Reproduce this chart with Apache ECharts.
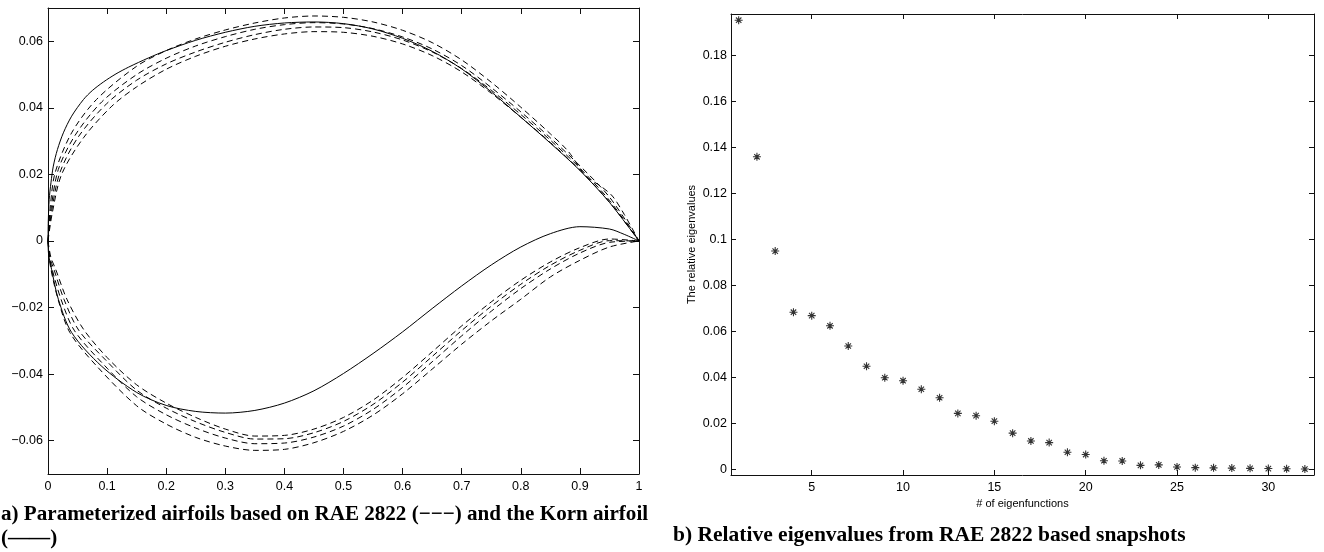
<!DOCTYPE html>
<html>
<head>
<meta charset="utf-8">
<title>Airfoils and relative eigenvalues</title>
<script src="https://cdn.jsdelivr.net/npm/echarts@6/dist/echarts.min.js"></script>
<style>
  html, body { margin: 0; padding: 0; background: #fff; }
  #chart { width: 1324px; height: 552px; }
</style>
</head>
<body>
<div id="chart"></div>
<script>
// panel a) airfoil shapes, [x/c, y/c]
const kornUpper = [[0,0],[0.0005,0.006],[0.002,0.0125],[0.005,0.0175],[0.009,0.0225],[0.016,0.0275],[0.026,0.0325],[0.04,0.0375],[0.06,0.0425],[0.075,0.0452],[0.094,0.0478],[0.115,0.0502],[0.136,0.0522],[0.17,0.055],[0.2,0.0572],[0.25,0.0603],[0.3,0.0627],[0.35,0.0645],[0.4,0.0655],[0.45,0.0658],[0.5,0.0653],[0.55,0.0637],[0.6,0.0609],[0.65,0.057],[0.7,0.0517],[0.75,0.0448],[0.8,0.0372],[0.85,0.0294],[0.9,0.0212],[0.95,0.0116],[1,0]];
const kornLower = [[0,0],[0.001,-0.004],[0.006,-0.0085],[0.0175,-0.0175],[0.04,-0.0275],[0.09,-0.0375],[0.15,-0.0455],[0.2,-0.0494],[0.25,-0.0512],[0.3,-0.0517],[0.35,-0.0509],[0.4,-0.0487],[0.45,-0.045],[0.5,-0.0398],[0.55,-0.0338],[0.6,-0.0273],[0.65,-0.0203],[0.7,-0.0135],[0.75,-0.0072],[0.8,-0.0018],[0.85,0.0022],[0.9,0.0043],[0.95,0.0036],[0.975,0.002],[1,0]];

const raeUpper1 = [[0,0],[0.004,0.0105],[0.012,0.0205],[0.04,0.0325],[0.082,0.0425],[0.15,0.0525],[0.2,0.0572],[0.25,0.0607],[0.3,0.0634],[0.35,0.0655],[0.4,0.067],[0.45,0.0676],[0.5,0.0672],[0.55,0.0658],[0.6,0.0633],[0.65,0.0596],[0.7,0.0544],[0.75,0.0477],[0.8,0.0402],[0.85,0.0322],[0.88,0.027],[0.91,0.0195],[0.935,0.0165],[0.955,0.0135],[0.975,0.008],[1,0]];
const raeUpper2 = [[0,0],[0.005,0.0095],[0.0175,0.0215],[0.046,0.0318],[0.091,0.0418],[0.15,0.05],[0.2,0.0549],[0.25,0.0586],[0.3,0.0614],[0.35,0.0636],[0.4,0.065],[0.45,0.0656],[0.5,0.0652],[0.55,0.0638],[0.6,0.0613],[0.65,0.0577],[0.7,0.0527],[0.75,0.0461],[0.8,0.0388],[0.85,0.031],[0.9,0.0226],[0.95,0.0132],[1,0]];
const raeUpper3 = [[0,0],[0.006,0.0088],[0.02,0.0205],[0.051,0.0312],[0.099,0.0412],[0.15,0.0483],[0.2,0.0532],[0.25,0.0568],[0.3,0.0597],[0.35,0.062],[0.4,0.0636],[0.45,0.0643],[0.5,0.0641],[0.55,0.0628],[0.6,0.0604],[0.65,0.0568],[0.7,0.0518],[0.75,0.0453],[0.8,0.038],[0.85,0.0303],[0.9,0.0219],[0.95,0.0122],[1,0]];
const raeUpper4 = [[0,0],[0.007,0.0082],[0.023,0.02],[0.06,0.031],[0.108,0.0405],[0.15,0.0463],[0.2,0.0516],[0.25,0.0555],[0.3,0.0585],[0.35,0.0607],[0.4,0.0622],[0.45,0.0629],[0.5,0.0627],[0.55,0.0615],[0.6,0.0592],[0.65,0.0557],[0.7,0.0508],[0.75,0.0444],[0.8,0.0372],[0.85,0.0296],[0.9,0.0213],[0.95,0.0117],[1,0]];

const raeLower1 = [[0,0],[0.005,-0.005],[0.013,-0.0085],[0.032,-0.0175],[0.06,-0.0265],[0.1,-0.035],[0.15,-0.0432],[0.2,-0.0487],[0.25,-0.053],[0.3,-0.0565],[0.35,-0.0586],[0.4,-0.0584],[0.45,-0.0565],[0.5,-0.053],[0.55,-0.0478],[0.6,-0.041],[0.65,-0.0333],[0.7,-0.0255],[0.75,-0.0183],[0.8,-0.0118],[0.85,-0.0063],[0.9,-0.002],[0.95,0.0006],[1,0]];
const raeLower2 = [[0,0],[0.004,-0.0055],[0.01,-0.0085],[0.027,-0.0175],[0.052,-0.0268],[0.1,-0.0362],[0.15,-0.0448],[0.2,-0.0502],[0.25,-0.0543],[0.3,-0.0575],[0.35,-0.0595],[0.4,-0.0594],[0.45,-0.0576],[0.5,-0.0542],[0.55,-0.0491],[0.6,-0.0424],[0.65,-0.0347],[0.7,-0.0269],[0.75,-0.0196],[0.8,-0.013],[0.85,-0.0073],[0.9,-0.0028],[0.95,0.0001],[1,0]];
const raeLower3 = [[0,0],[0.003,-0.0055],[0.007,-0.0085],[0.022,-0.0175],[0.045,-0.027],[0.1,-0.0382],[0.15,-0.0468],[0.2,-0.0522],[0.25,-0.0562],[0.3,-0.0592],[0.35,-0.0609],[0.4,-0.0607],[0.45,-0.0589],[0.5,-0.0556],[0.55,-0.0506],[0.6,-0.044],[0.65,-0.0363],[0.7,-0.0285],[0.75,-0.0211],[0.8,-0.0143],[0.85,-0.0084],[0.9,-0.0036],[0.95,-0.0004],[1,0]];
const raeLower4 = [[0,0],[0.004,-0.0075],[0.017,-0.0175],[0.037,-0.0275],[0.082,-0.0375],[0.15,-0.0495],[0.2,-0.055],[0.25,-0.059],[0.3,-0.0616],[0.35,-0.0629],[0.4,-0.0626],[0.45,-0.0606],[0.5,-0.0572],[0.55,-0.0523],[0.6,-0.0459],[0.65,-0.0385],[0.7,-0.031],[0.75,-0.024],[0.8,-0.0175],[0.85,-0.0108],[0.9,-0.0058],[0.95,-0.0018],[1,0]];

const airfoilXTicks = [0, 0.1, 0.2, 0.3, 0.4, 0.5, 0.6, 0.7, 0.8, 0.9, 1];
const airfoilYTicks = [-0.06, -0.04, -0.02, 0, 0.02, 0.04, 0.06];

// panel b) relative eigenvalues
const modeNumbers = [1,2,3,4,5,6,7,8,9,10,11,12,13,14,15,16,17,18,19,20,21,22,23,24,25,26,27,28,29,30,31,32];
const relEigen = [0.1953,0.1359,0.0949,0.0683,0.0668,0.0624,0.0536,0.0448,0.0398,0.0385,0.0348,0.0311,0.0243,0.0233,0.0209,0.0157,0.0123,0.0116,0.0074,0.0064,0.0037,0.0036,0.0017,0.0019,0.0010,0.0007,0.0006,0.0005,0.0004,0.0003,0.0002,0.0001];
const eigXTicks = [5, 10, 15, 20, 25, 30];
const eigYTicks = [0, 0.02, 0.04, 0.06, 0.08, 0.1, 0.12, 0.14, 0.16, 0.18];

const SANS = '"Liberation Sans", Arial, Helvetica, sans-serif';
const SERIF = '"Liberation Serif", "Times New Roman", serif';
const INK = '#111';

function num(v) {
  const r = Math.round(v * 10000) / 10000;
  return (r < 0 ? '\u2212' : '') + String(Math.abs(r));
}

// one side of a boxed matlab-style axis; mirror sides get ticks but no labels
function axis(kind, gridIndex, opts) {
  const base = {
    type: 'value',
    gridIndex,
    min: opts.min,
    max: opts.max,
    position: opts.position,
    splitLine: { show: false },
    axisLine: { show: true, onZero: false, lineStyle: { color: INK, width: 1 } },
    axisTick: { show: true, inside: true, length: opts.tickLen, customValues: opts.ticks, lineStyle: { color: INK } },
    axisLabel: {
      show: !opts.mirror,
      customValues: opts.ticks,
      formatter: num,
      color: '#000',
      fontFamily: SANS,
      fontSize: 12.5,
      margin: opts.margin || 5
    }
  };
  if (opts.name) {
    base.name = opts.name;
    base.nameLocation = 'middle';
    base.nameGap = opts.nameGap;
    base.nameRotate = kind === 'y' ? 90 : 0;
    base.nameTextStyle = { fontFamily: SANS, fontSize: 11, color: '#000' };
  }
  return base;
}

function airfoil(data, dashed) {
  return {
    type: 'line',
    xAxisIndex: 0,
    yAxisIndex: 0,
    data,
    smooth: 0.3,
    showSymbol: false,
    silent: true,
    lineStyle: { color: '#000', width: 1, type: dashed ? [6, 4] : 'solid' }
  };
}

const chart = echarts.init(document.getElementById('chart'), null, { renderer: 'canvas' });

chart.setOption({
  animation: false,
  backgroundColor: '#fff',
  title: [
    {
      text: 'a) Parameterized airfoils based on RAE 2822 (\u2212\u2212\u2212) and the Korn airfoil\n(\u2014\u2014)',
      left: 1, top: 503, padding: 0,
      textStyle: { fontFamily: SERIF, fontWeight: 'bold', fontSize: 21.1, lineHeight: 24, color: '#000' }
    },
    {
      text: 'b) Relative eigenvalues from RAE 2822 based snapshots',
      left: 673, top: 523, padding: 0,
      textStyle: { fontFamily: SERIF, fontWeight: 'bold', fontSize: 21.5, lineHeight: 24, color: '#000' }
    }
  ],
  grid: [
    { left: 48, top: 8, width: 591, height: 466 },
    { left: 731, top: 14, width: 583, height: 461 }
  ],
  xAxis: [
    axis('x', 0, { min: 0, max: 1, position: 'bottom', ticks: airfoilXTicks, tickLen: 6, margin: 6 }),
    axis('x', 0, { min: 0, max: 1, position: 'top', ticks: airfoilXTicks, tickLen: 6, mirror: true }),
    axis('x', 1, { min: 0.58, max: 32.5, position: 'bottom', ticks: eigXTicks, tickLen: 5, margin: 6,
      name: '# of eigenfunctions', nameGap: 13 }),
    axis('x', 1, { min: 0.58, max: 32.5, position: 'top', ticks: eigXTicks, tickLen: 5, mirror: true })
  ],
  yAxis: [
    axis('y', 0, { min: -0.07, max: 0.07, position: 'left', ticks: airfoilYTicks, tickLen: 6, margin: 5 }),
    axis('y', 0, { min: -0.07, max: 0.07, position: 'right', ticks: airfoilYTicks, tickLen: 6, mirror: true }),
    axis('y', 1, { min: -0.0025, max: 0.198, position: 'left', ticks: eigYTicks, tickLen: 5, margin: 4,
      name: 'The relative eigenvalues', nameGap: 34 }),
    axis('y', 1, { min: -0.0025, max: 0.198, position: 'right', ticks: eigYTicks, tickLen: 5, mirror: true })
  ],
  series: [
    airfoil(raeUpper1, true), airfoil(raeUpper2, true), airfoil(raeUpper3, true), airfoil(raeUpper4, true),
    airfoil(raeLower1, true), airfoil(raeLower2, true), airfoil(raeLower3, true), airfoil(raeLower4, true),
    airfoil(kornUpper, false), airfoil(kornLower, false),
    {
      type: 'scatter',
      xAxisIndex: 2,
      yAxisIndex: 2,
      data: modeNumbers.map((m, i) => [m, relEigen[i]]),
      symbol: 'path://M5,0L5,10M0,5L10,5M1.6,1.6L8.4,8.4M8.4,1.6L1.6,8.4',
      symbolSize: 8,
      silent: true,
      itemStyle: { color: '#000', borderColor: '#000', borderWidth: 1.1 }
    }
  ]
});
</script>
</body>
</html>
